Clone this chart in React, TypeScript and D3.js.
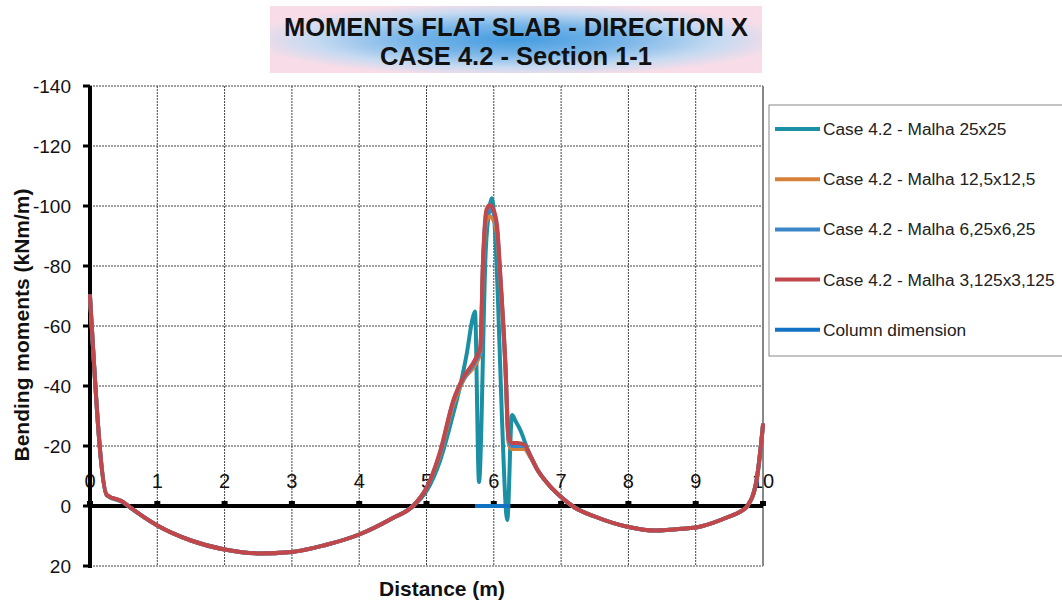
import * as d3 from 'd3';
import React from 'react';

// distances (m) and bending moments (kNm/m)
const dist25 = [0, 0.25, 0.49, 0.6, 1.0, 1.5, 2.0, 2.5, 3.0, 3.5, 4.0, 4.5, 4.8, 5.0, 5.2, 5.4, 5.5, 5.6, 5.68, 5.72, 5.78, 5.88, 5.94, 5.97, 6.0, 6.06, 6.12, 6.2, 6.27, 6.33, 6.4, 6.5, 6.65, 6.8, 7.0, 7.2, 7.5, 8.0, 8.4, 8.8, 9.06, 9.5, 9.66, 9.76, 9.9, 10];
const mom25 = [-70, -3.5, -1.2, 0.6, 6.5, 11.5, 14.5, 15.8, 15.3, 13, 9.5, 4, 0, -5, -15, -31, -40, -51, -62, -64.8, -8, -85, -100, -102.6, -98, -70, -30, 4.7, -30.3, -28, -25, -19, -12, -7.5, -3, 0.5, 3.5, 7, 8.2, 7.6, 6.9, 3.5, 1.9, 0.2, -8, -27];

const dist125 = [0, 0.25, 0.49, 0.6, 1.0, 1.5, 2.0, 2.5, 3.0, 3.5, 4.0, 4.5, 4.8, 5.0, 5.2, 5.4, 5.55, 5.72, 5.8, 5.84, 5.89, 5.94, 6.0, 6.05, 6.1, 6.17, 6.22, 6.27, 6.35, 6.45, 6.55, 6.65, 6.8, 7.0, 7.2, 7.5, 8.0, 8.4, 8.8, 9.06, 9.5, 9.66, 9.76, 9.9, 10];
const mom125 = [-70, -3.7, -1.4, 0.5, 6.5, 11.5, 14.5, 15.8, 15.3, 13, 9.5, 4, 0, -6, -17, -34, -42, -47, -51, -80, -95, -96.5, -95, -90, -74, -47, -21, -19, -19, -19, -16, -12, -7.5, -3, 0.5, 3.5, 7, 8.2, 7.6, 6.9, 3.5, 1.9, 0.2, -8, -27];

const dist625 = dist125;
const mom625 = [-70, -3.7, -1.4, 0.5, 6.5, 11.5, 14.5, 15.8, 15.3, 13, 9.5, 4, 0, -6, -17.5, -35, -42.5, -48, -52, -81, -97.5, -99, -97.5, -92, -75, -48, -22, -20, -20, -20, -16.3, -12, -7.5, -3, 0.5, 3.5, 7, 8.2, 7.6, 6.9, 3.5, 1.9, 0.2, -8, -27];

const dist3125 = dist125;
const mom3125 = [-70, -3.7, -1.4, 0.5, 6.5, 11.5, 14.5, 15.8, 15.3, 13, 9.5, 4, 0, -6, -18, -35.3, -43, -48.7, -53, -82, -98.7, -100.3, -98.5, -93, -76, -48.7, -23, -21, -21, -20.5, -16.5, -12, -7.5, -3, 0.5, 3.5, 7, 8.2, 7.6, 6.9, 3.5, 1.9, 0.2, -8, -27];

const columnDist = [5.72, 6.24];
const columnMom = [0, 0];

const seriesNames = [
  'Case 4.2 - Malha 25x25',
  'Case 4.2 - Malha 12,5x12,5',
  'Case 4.2 - Malha 6,25x6,25',
  'Case 4.2 - Malha 3,125x3,125',
  'Column dimension',
];
const seriesColors = ['#1b8fa3', '#d6813a', '#3a86c8', '#c2474b', '#1273c4'];

const xTicks = [0, 1, 2, 3, 4, 5, 6, 7, 8, 9, 10];
const yTicks = [-140, -120, -100, -80, -60, -40, -20, 0, 20];

const W = 1062;
const H = 601;
const font = '"Liberation Sans", Arial, sans-serif';

export default function App() {
  const x = d3.scaleLinear().domain([0, 10]).range([90, 763]);
  const y = d3.scaleLinear().domain([-140, 20]).range([86, 566]);

  const line = d3
    .line<[number, number]>()
    .x(d => x(d[0]))
    .y(d => y(d[1]))
    .curve(d3.curveMonotoneX);

  const zip = (a: number[], b: number[]) => a.map((v, i) => [v, b[i]] as [number, number]);
  const series = [
    zip(dist25, mom25),
    zip(dist125, mom125),
    zip(dist625, mom625),
    zip(dist3125, mom3125),
  ];

  return (
    <svg
      width={W}
      height={H}
      style={{position: 'absolute', left: 0, top: 0, display: 'block', background: '#fff'}}
      fontFamily={font}
    >
      <defs>
        <radialGradient id="titleGrad" cx="50%" cy="50%" r="55%">
          <stop offset="0%" stopColor="#449ce0" />
          <stop offset="40%" stopColor="#78b5e8" />
          <stop offset="75%" stopColor="#c6daf1" />
          <stop offset="100%" stopColor="#f8dde8" />
        </radialGradient>
      </defs>

      {/* title */}
      <rect x={270} y={6} width={492} height={67} fill="url(#titleGrad)" />
      <text x={516} y={36} textAnchor="middle" fontSize={25.5} fontWeight="bold" fill="#111">
        MOMENTS FLAT SLAB - DIRECTION X
      </text>
      <text x={516} y={65} textAnchor="middle" fontSize={25.5} fontWeight="bold" fill="#111">
        CASE 4.2 - Section 1-1
      </text>

      {/* grid */}
      {xTicks.map(t => (
        <line key={'gx' + t} x1={x(t)} x2={x(t)} y1={y(-140)} y2={y(20)}
          stroke="#444" strokeWidth={1} strokeDasharray="2,1" />
      ))}
      {yTicks.map(t => (
        <line key={'gy' + t} x1={x(0)} x2={x(10)} y1={y(t)} y2={y(t)}
          stroke="#444" strokeWidth={1} strokeDasharray="2,1" />
      ))}
      <line x1={x(10)} x2={x(10)} y1={y(-140)} y2={y(20)} stroke="#888" strokeWidth={2} />

      {/* zero line with tick dots */}
      <line x1={x(0)} x2={x(10)} y1={y(0)} y2={y(0)} stroke="#000" strokeWidth={4} />
      {xTicks.map(t => (
        <rect key={'xd' + t} x={x(t) - 3} y={y(0) - 5} width={6} height={5} fill="#000" />
      ))}
      {xTicks.map(t => (
        <text key={'xl' + t} x={x(t)} y={488} textAnchor="middle" fontSize={20} fill="#111">
          {t}
        </text>
      ))}

      {/* y axis */}
      <line x1={x(0)} x2={x(0)} y1={y(-140)} y2={y(20) + 2} stroke="#000" strokeWidth={4} />
      {yTicks.map(t => (
        <g key={'yt' + t}>
          <line x1={x(0) - 7} x2={x(0)} y1={y(t)} y2={y(t)} stroke="#000" strokeWidth={3} />
          <text x={71} y={y(t) + 7} textAnchor="end" fontSize={19} fill="#111">
            {t}
          </text>
        </g>
      ))}

      {/* series */}
      {series.map((s, i) => (
        <path key={'s' + i} d={line(s) ?? ''} fill="none" stroke={seriesColors[i]}
          strokeWidth={4} strokeLinejoin="round" strokeLinecap="round" />
      ))}
      <line x1={x(columnDist[0])} x2={x(columnDist[1])} y1={y(columnMom[0])} y2={y(columnMom[1])}
        stroke={seriesColors[4]} strokeWidth={4} />

      {/* axis titles */}
      <text transform={`translate(29, 325) rotate(-90)`} textAnchor="middle" fontSize={21} fontWeight="bold" fill="#111">
        Bending moments (kNm/m)
      </text>
      <text x={442} y={596} textAnchor="middle" fontSize={21} fontWeight="bold" fill="#111">
        Distance (m)
      </text>

      {/* legend */}
      <rect x={769} y={105} width={300} height={251} fill="#fff" stroke="#888" strokeWidth={1} />
      {seriesNames.map((n, i) => (
        <g key={'lg' + i} transform={`translate(775, ${129 + i * 50.2})`}>
          <line x1={0} x2={45} y1={0} y2={0} stroke={seriesColors[i]} strokeWidth={4} />
          <text x={48} y={6} fontSize={17.3} fill="#222">
            {n}
          </text>
        </g>
      ))}
    </svg>
  );
}
